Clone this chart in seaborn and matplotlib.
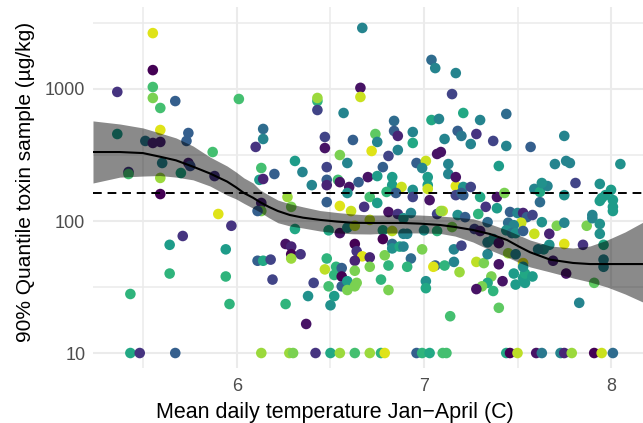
import matplotlib
matplotlib.use("Agg")
import matplotlib.pyplot as plt
from matplotlib.ticker import FixedLocator, NullFormatter
import seaborn as sns
import pandas as pd

# ─── Data ────────────────────────────────────────────────────────────────────
# mean daily temperature Jan-April (C)
temp = [
    5.55, 5.55, 5.36, 5.55, 5.55, 5.59, 5.67, 6.01, 5.59, 5.36,
    5.74, 5.73, 5.51, 5.55, 5.59, 5.87, 6.10, 6.13, 6.12, 6.14,
    5.42, 5.42, 5.60, 5.74, 5.75, 5.70, 5.88, 5.59, 5.59, 5.90,
    5.97, 5.71, 5.64, 5.94, 6.14, 6.14, 6.20, 6.13, 6.13, 6.11,
    5.64, 5.94, 5.43, 5.96, 6.26, 6.29, 6.29, 6.34, 6.11, 6.14,
    6.18, 6.29, 6.19, 6.41, 6.38, 6.26, 6.50, 6.52, 6.37, 6.48,
    6.47, 6.53, 6.52, 6.56, 6.56, 6.49, 6.56, 6.59, 6.64, 6.63,
    6.59, 6.63, 6.64, 6.67, 6.63, 6.63, 6.71, 6.71, 6.79, 6.83,
    6.83, 6.87, 6.89, 6.93, 6.81, 6.91, 6.77, 6.81, 6.99, 7.06,
    7.05, 7.11, 7.16, 7.16, 7.20, 7.19, 7.01, 7.01, 7.14, 7.28,
    7.32, 7.40, 7.34, 7.36, 7.42, 7.34, 7.31, 7.28, 7.37, 7.40,
    7.45, 7.49, 7.48, 7.49, 7.53, 7.54, 7.54, 7.58, 7.53, 7.53,
    7.76, 7.83, 7.91, 7.75, 7.85, 7.69, 7.64, 7.61, 7.67, 7.96,
    7.96, 7.96, 7.34, 7.17, 7.21, 7.25, 7.17, 7.21, 7.30, 7.39,
    7.43, 7.33, 7.39, 7.29, 7.10, 7.18, 7.22, 7.34, 7.27, 7.30,
    7.37, 7.40, 7.46, 7.50, 7.53, 7.55, 7.58, 7.52, 7.45, 7.48,
    7.44, 7.47, 7.49, 7.53, 7.59, 7.63, 7.67, 7.71, 7.75, 7.87,
    7.90, 7.90, 7.94, 7.94, 7.59, 7.62, 7.66, 7.63, 7.62, 7.75,
    7.81, 7.94, 8.00, 7.97, 7.95, 7.94, 8.01, 8.01, 8.01, 7.17,
    7.15, 7.21, 7.30, 7.44, 7.18, 7.20, 7.28, 7.25, 7.11, 7.37,
    7.44, 7.57, 7.75, 7.70, 7.76, 7.78, 8.05, 7.40, 7.13, 7.13,
    7.17, 7.09, 7.20, 6.67, 7.04, 7.06, 6.66, 6.66, 6.43, 6.43,
    6.43, 6.57, 6.84, 7.04, 7.08, 6.84, 6.86, 6.94, 6.94, 6.74,
    6.75, 6.62, 6.47, 6.47, 6.55, 6.72, 6.81, 6.86, 7.07, 6.59,
    6.96, 7.01, 6.99, 7.02, 7.02, 6.48, 6.31, 6.35, 6.48, 6.48,
    6.54, 6.55, 6.40, 6.60, 6.65, 6.70, 6.75, 6.78, 6.83, 6.83,
    6.88, 6.94, 6.80, 6.85, 6.59, 6.27, 6.71, 6.94, 7.03, 7.02,
    6.75, 6.48, 6.55, 6.61, 6.68, 6.81, 6.86, 6.93, 7.07, 7.09,
    6.29, 6.31, 6.49, 6.55, 6.59, 6.63, 6.71, 6.78, 6.83, 6.89,
    7.00, 6.78, 6.89, 6.91, 7.07, 7.15,
    # samples at the 10 µg/kg floor
    5.43, 5.48, 5.67, 6.13, 6.28, 6.30, 6.42, 6.50, 6.55, 6.63,
    6.71, 6.77, 6.79, 6.96, 6.99, 7.03, 7.10, 7.12, 7.44, 7.46,
    7.50, 7.60, 7.63, 7.73, 7.75, 7.79, 7.91, 7.95, 8.01,
]

# 90% quantile toxin sample (µg/kg)
toxin = [
    2650, 1390, 950, 1035, 855, 718, 810, 840, 489, 456,
    464, 404, 404, 390, 397, 333, 364, 252, 205, 208,
    235, 227, 275, 275, 261, 231, 219, 212, 160, 113,
    92, 77, 66, 61, 498, 418, 227, 137, 119, 119,
    40, 38, 28, 23.5, 67, 64, 56, 56, 50, 50,
    51, 52, 36, 34, 27, 23.5, 23, 27, 16.6, 52,
    43, 45, 39, 44, 38, 32, 32, 35, 34, 32,
    30, 67, 59, 54, 50, 42, 53, 45, 55, 67,
    62, 64, 64, 52, 46, 45, 36, 30, 61, 46,
    45, 46, 49, 61, 65, 41, 35, 31, 19, 49,
    48, 47, 56, 38, 35, 34, 32, 30.5, 29.5, 22,
    57, 56, 40, 33, 37, 34, 40, 38, 48, 45,
    40, 24, 34, 67, 66, 50, 61, 61, 66, 51,
    45, 66, 69, 184, 181, 181, 157, 157, 152, 152,
    163, 128, 125, 113, 119, 111, 107, 98, 87, 84,
    73, 68, 117, 115, 115, 107, 111, 97, 97, 93,
    85, 81, 81, 84, 80, 98, 80, 92, 97, 92,
    111, 105, 95, 80, 175, 166, 184, 194, 139, 157,
    194, 191, 172, 157, 149, 142, 144, 128, 119, 1320,
    915, 658, 582, 647, 481, 441, 456, 383, 418, 404,
    370, 364, 441, 270, 285, 275, 270, 261, 270, 227,
    215, 333, 163, 2900, 1660, 1440, 1020, 870, 810, 855,
    693, 658, 573, 582, 593, 481, 441, 472, 390, 456,
    397, 411, 433, 357, 316, 339, 311, 345, 322, 275,
    275, 285, 252, 215, 187, 256, 285, 235, 205, 187,
    205, 197, 187, 181, 197, 215, 219, 256, 215, 187,
    181, 172, 166, 163, 163, 152, 152, 152, 144, 175,
    137, 139, 130, 119, 128, 117, 113, 115, 113, 119,
    128, 87, 85, 81, 89, 92, 102, 85, 84, 105,
    85, 73, 80, 80, 84, 90,
    10, 10, 10, 10, 10, 10, 10, 10, 10, 10,
    10, 10, 10, 10, 10, 10, 10, 10, 10, 10,
    10, 10, 10, 10, 10, 10, 10, 10, 10,
]

# colour variable (0-1, viridis)
shade = [
    0.95, 0.00, 0.15, 0.70, 0.80, 0.70, 0.30, 0.70, 0.95, 0.55,
    0.30, 0.30, 0.40, 0.10, 0.10, 0.70, 0.15, 0.70, 0.55, 0.10,
    0.15, 0.70, 0.45, 0.10, 0.25, 0.60, 0.15, 0.85, 0.00, 0.95,
    0.15, 0.15, 0.55, 0.55, 0.35, 0.45, 0.30, 0.10, 0.80, 0.30,
    0.65, 0.65, 0.65, 0.65, 0.05, 0.10, 0.00, 0.15, 0.30, 0.60,
    0.20, 0.85, 0.20, 0.20, 0.50, 0.65, 0.50, 0.55, 0.05, 0.65,
    0.90, 0.65, 0.65, 0.30, 0.00, 0.70, 0.30, 0.55, 0.80, 0.80,
    0.80, 0.00, 0.15, 0.95, 0.10, 0.80, 0.10, 0.80, 0.80, 0.35,
    0.50, 0.60, 0.45, 0.35, 0.65, 0.65, 0.65, 0.80, 0.80, 0.30,
    0.95, 0.65, 0.45, 0.45, 0.20, 0.85, 0.50, 0.60, 0.70, 0.90,
    0.80, 0.05, 0.45, 0.80, 0.05, 0.60, 0.80, 0.05, 0.65, 0.75,
    0.85, 0.45, 0.55, 0.55, 0.55, 0.55, 0.60, 0.55, 0.95, 0.50,
    0.05, 0.45, 0.75, 0.95, 0.15, 0.10, 0.50, 0.45, 0.50, 0.45,
    0.45, 0.60, 0.45, 0.95, 0.50, 0.20, 0.20, 0.30, 0.60, 0.05,
    0.80, 0.15, 0.55, 0.65, 0.90, 0.50, 0.30, 0.35, 0.20, 0.10,
    0.50, 0.05, 0.30, 0.45, 0.10, 0.30, 0.20, 0.92, 0.35, 0.45,
    0.50, 0.40, 0.50, 0.30, 0.92, 0.50, 0.10, 0.80, 0.45, 0.80,
    0.45, 0.45, 0.50, 0.50, 0.45, 0.60, 0.45, 0.50, 0.35, 0.50,
    0.20, 0.50, 0.55, 0.55, 0.55, 0.55, 0.55, 0.55, 0.55, 0.45,
    0.20, 0.60, 0.45, 0.35, 0.30, 0.40, 0.15, 0.45, 0.45, 0.20,
    0.45, 0.30, 0.45, 0.45, 0.45, 0.45, 0.50, 0.55, 0.45, 0.45,
    0.05, 0.05, 0.30, 0.45, 0.35, 0.45, 0.05, 0.92, 0.65, 0.85,
    0.20, 0.45, 0.35, 0.60, 0.45, 0.30, 0.10, 0.45, 0.60, 0.75,
    0.45, 0.30, 0.20, 0.05, 0.80, 0.95, 0.20, 0.45, 0.05, 0.45,
    0.30, 0.92, 0.45, 0.55, 0.55, 0.20, 0.55, 0.45, 0.30, 0.10,
    0.70, 0.05, 0.45, 0.05, 0.30, 0.05, 0.55, 0.30, 0.55, 0.55,
    0.92, 0.50, 0.65, 0.30, 0.50, 0.85, 0.70, 0.20, 0.05, 0.92,
    0.55, 0.30, 0.95, 0.92, 0.15, 0.05, 0.15, 0.45, 0.20, 0.85,
    0.80, 0.60, 0.60, 0.05, 0.50, 0.90, 0.90, 0.60, 0.90, 0.50,
    0.50, 0.00, 0.45, 0.45, 0.65, 0.80,
    0.60, 0.15, 0.30, 0.85, 0.85, 0.80, 0.15, 0.60, 0.85, 0.70,
    0.85, 0.65, 0.95, 0.30, 0.65, 0.60, 0.70, 0.70, 0.60, 0.00,
    0.90, 0.05, 0.40, 0.45, 0.10, 0.85, 0.00, 0.92, 0.35,
]

# loess-style smooth with its confidence band
smooth_t = [5.230, 5.374, 5.497, 5.588, 5.674, 5.765, 5.856, 5.947, 5.995,
            6.037, 6.086, 6.123, 6.170, 6.219, 6.283, 6.353, 6.444, 6.535,
            6.620, 6.711, 6.802, 6.888, 6.979, 7.086, 7.166, 7.262, 7.353,
            7.444, 7.508, 7.567, 7.674, 7.797, 7.888, 7.979, 8.075, 8.171]
smooth_fit = [333, 333, 327, 307, 288, 258, 229, 199, 180, 163, 150, 139,
              128, 119, 111, 106, 102, 99, 97, 96.6, 96.6, 96.6, 95.5, 93.3,
              90.1, 85.5, 79.7, 71.8, 64, 58, 51, 48.1, 47.2, 47.2, 47.2,
              47.2]
smooth_hi = [573, 543, 507, 464, 426, 370, 305, 261, 235, 212, 194, 172, 157,
             144, 135, 128, 120, 116, 113, 111, 111, 112, 111, 109, 107, 104,
             95, 85.5, 78, 71.8, 64.7, 62.4, 64.7, 71.8, 82.6, 98]
smooth_lo = [194, 215, 219, 221, 215, 205, 184, 157, 147, 136, 125, 117,
             106, 97, 91.7, 88.5, 84, 81.2, 80, 79.7, 81, 81.2, 81.2, 80.5,
             76.9, 69.3, 60.3, 53.4, 48.5, 44.9, 41.1, 37.0, 34.5, 31.6,
             28.0, 24.3]

threshold = 163  # dashed reference line

x_ticks = [6, 7, 8]
x_minor = [5.5, 6.5, 7.5]
y_ticks = [10, 100, 1000]
y_minor = [31.6, 316, 3162]

df = pd.DataFrame({"temp": temp, "toxin": toxin, "shade": shade})

# ─── Plot ────────────────────────────────────────────────────────────────────
sns.set_style("white")
plt.rcParams["font.family"] = ["Liberation Sans", "DejaVu Sans"]

fig = plt.figure(figsize=(6.43, 4.23), dpi=100)
ax = fig.add_axes([0.1446, 0.130, 0.8554, 0.8535])

sns.scatterplot(data=df, x="temp", y="toxin", hue="shade", palette="viridis",
                hue_norm=(0, 1), s=58, linewidth=0, legend=False, ax=ax,
                zorder=2)
ax.fill_between(smooth_t, smooth_lo, smooth_hi, color="black", alpha=0.46,
                linewidth=0, zorder=3)
sns.lineplot(x=smooth_t, y=smooth_fit, color="black", linewidth=1.5, ax=ax,
             zorder=4)
ax.axhline(threshold, color="black", linewidth=1.4, linestyle=(0, (4.5, 3)),
           zorder=5)

ax.set_yscale("log")
ax.set_xlim(5.230, 8.171)
ax.set_ylim(7.7, 4180)
ax.set_xticks(x_ticks)
ax.set_xticklabels([str(t) for t in x_ticks])
ax.set_yticks(y_ticks)
ax.set_yticklabels([str(t) for t in y_ticks])
ax.xaxis.set_minor_locator(FixedLocator(x_minor))
ax.yaxis.set_minor_locator(FixedLocator(y_minor))
ax.yaxis.set_minor_formatter(NullFormatter())

ax.grid(True, which="major", color="#ebebeb", linewidth=1.5, zorder=0)
ax.grid(True, which="minor", color="#ebebeb", linewidth=1.1, zorder=0)
ax.set_axisbelow(True)
for s in ax.spines.values():
    s.set_visible(False)
ax.tick_params(which="both", length=0)
ax.tick_params(axis="x", labelsize=13, labelcolor="#4d4d4d", pad=7)
ax.tick_params(axis="y", labelsize=13, labelcolor="#4d4d4d", pad=5.5)

ax.set_xlabel("Mean daily temperature Jan\u2212April (C)", fontsize=15.5,
              color="black", labelpad=5)
ax.set_ylabel("90% Quantile toxin sample (\u00b5g/kg)", fontsize=15,
              color="black", labelpad=7)
# the titles in the picture sit a little off the panel centre
ax.xaxis.label.set_x(0.44)
ax.yaxis.label.set_y(0.515)

fig.savefig("out.png", dpi=100)
plt.close(fig)
